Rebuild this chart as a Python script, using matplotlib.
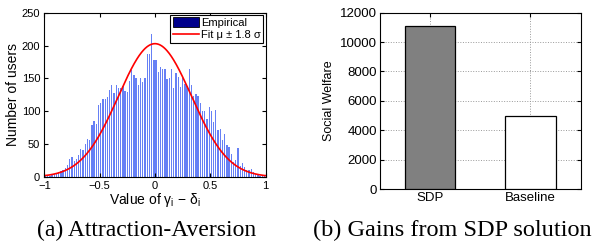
import numpy as np
import matplotlib
matplotlib.use("Agg")
import matplotlib.pyplot as plt
from matplotlib.patches import Patch
from matplotlib.lines import Line2D

plt.rcParams['font.family'] = ['Liberation Sans', 'DejaVu Sans']
plt.rcParams['axes.unicode_minus'] = True

# ---- data: histogram (a) ----
bin_edges = np.linspace(-1, 1, 101)
counts = [1, 1, 2, 3, 4, 6, 7, 9, 10, 14,
          18, 28, 30, 24, 27, 34, 42, 41, 50, 58,
          57, 79, 85, 80, 109, 113, 118, 118, 122, 132,
          140, 128, 140, 136, 135, 138, 131, 129, 146, 163,
          156, 150, 140, 150, 144, 150, 188, 188, 218, 178,
          178, 160, 167, 165, 164, 149, 150, 165, 135, 159,
          152, 137, 150, 142, 139, 165, 140, 123, 127, 123,
          112, 100, 101, 88, 107, 101, 84, 102, 71, 73,
          57, 66, 49, 45, 35, 23, 26, 44, 16, 22,
          15, 11, 10, 12, 7, 4, 3, 2, 2, 1]
fit_mu = 0.0
fit_sigma = 0.33
fit_peak = 203
hist_xticks = [-1, -0.5, 0, 0.5, 1]
hist_xticklabels = ['\u22121', '\u22120.5', '0', '0.5', '1']
hist_yticks = [0, 50, 100, 150, 200, 250]

# ---- data: bars (b) ----
bar_categories = ['SDP', 'Baseline']
bar_values = [11100, 4950]
bar_yticks = [0, 2000, 4000, 6000, 8000, 10000, 12000]

fig = plt.figure(figsize=(6.03, 2.44), dpi=100)

# ---------- (a) ----------
ax1 = fig.add_axes([0.0735, 0.2746, 0.367, 0.673])
centers = (bin_edges[:-1] + bin_edges[1:]) / 2
binw = bin_edges[1] - bin_edges[0]
ax1.bar(centers, counts, width=binw * 0.6, color='#6680f5', edgecolor='none')
xs = np.linspace(-1, 1, 400)
ax1.plot(xs, fit_peak * np.exp(-(xs - fit_mu) ** 2 / (2 * fit_sigma ** 2)),
         color='#ff0000', lw=1.2)
ax1.set_xlim(-1, 1)
ax1.set_ylim(0, 250)
ax1.set_xticks(hist_xticks)
ax1.set_xticklabels(hist_xticklabels)
ax1.set_yticks(hist_yticks)
ax1.tick_params(direction='in', top=True, right=True, labelsize=8, length=3)
ax1.tick_params(axis='x', pad=3)
ax1.tick_params(axis='y', pad=3)
ax1.set_ylabel('Number of users', fontsize=10, labelpad=1)
ax1.set_xlabel('Value of γ$_\\mathregular{i}$ \u2212 δ$_\\mathregular{i}$',
               fontsize=10, labelpad=0)
handles = [Patch(facecolor='#00008b', edgecolor='black', lw=0.6),
           Line2D([0], [0], color='#ff0000', lw=1.2)]
leg = ax1.legend(handles, ['Empirical', 'Fit μ ± 1.8 σ'], loc='upper right',
                 fontsize=8, fancybox=False, edgecolor='black', framealpha=1,
                 borderaxespad=0.2, handlelength=2.4, handleheight=1.0,
                 handletextpad=0.2, borderpad=0.2, labelspacing=0.15)
leg.get_frame().set_linewidth(0.8)
for s in ax1.spines.values():
    s.set_linewidth(0.8)

# ---------- (b) ----------
ax2 = fig.add_axes([0.630, 0.2254, 0.333, 0.7225])
xpos = np.arange(1, len(bar_categories) + 1)
ax2.bar(xpos, bar_values, width=0.5, color=['#808080', '#ffffff'],
        edgecolor='black', linewidth=0.9, zorder=3)
ax2.set_xlim(0.5, 2.5)
ax2.set_ylim(0, 12000)
ax2.set_xticks(xpos)
ax2.set_xticklabels(bar_categories)
ax2.set_yticks(bar_yticks)
ax2.grid(True, linestyle=':', color='#999999', linewidth=0.7, zorder=0)
ax2.tick_params(direction='in', top=True, right=True, labelsize=9.5, length=3, pad=2)
ax2.set_ylabel('Social Welfare', fontsize=9, labelpad=4)
for s in ax2.spines.values():
    s.set_linewidth(0.8)

# captions
fig.text(0.243, 0.057, '(a) Attraction-Aversion', ha='center', va='center',
         fontsize=17, family='Liberation Serif')
fig.text(0.750, 0.057, '(b) Gains from SDP solution', ha='center', va='center',
         fontsize=17.5, family='Liberation Serif')

fig.savefig('out.png', dpi=100)
